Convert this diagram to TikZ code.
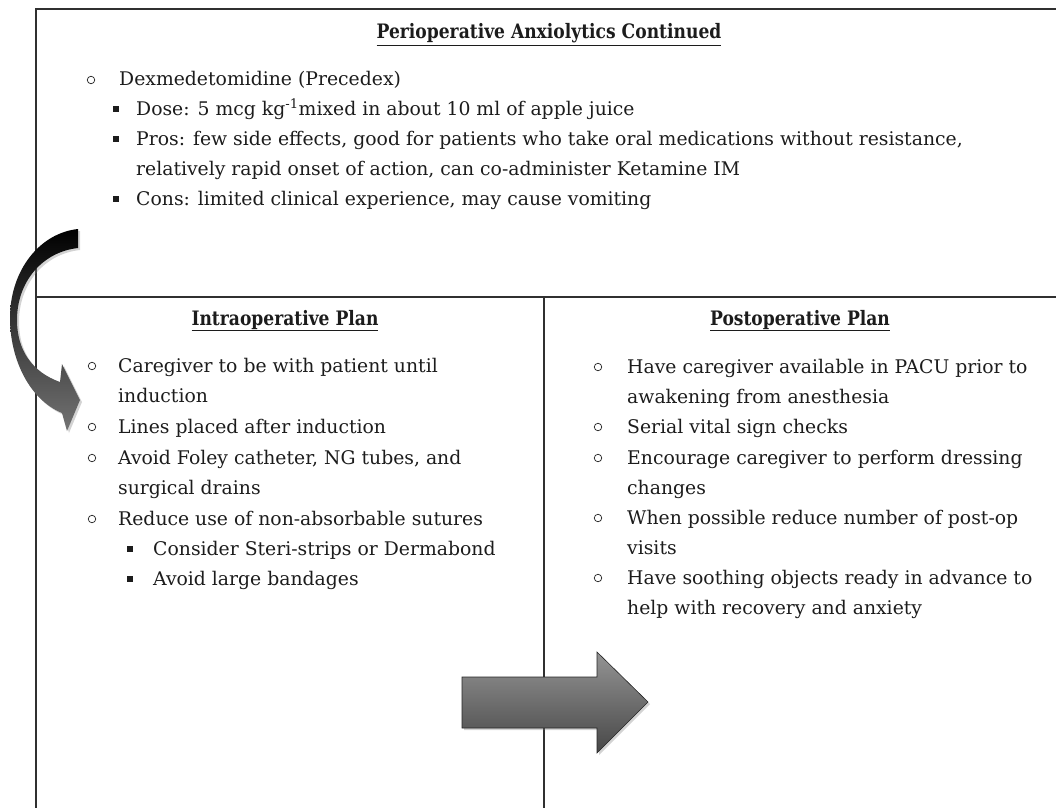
\documentclass[tikz,border=0pt]{standalone}
\usepackage{fontspec}
\setmainfont{DejaVu Serif}
\newfontfamily\headfont[FakeStretch=0.86]{DejaVu Serif}
\usepackage{tikz}
\usetikzlibrary{positioning,shadows,calc}
\definecolor{rule}{HTML}{303030}
\definecolor{ink}{HTML}{1C1C1C}

\begin{document}
\begin{tikzpicture}[x=1pt, y=-1pt,
  body/.style={anchor=base west, inner sep=0pt, align=left, text=ink, font=\fontsize{18.8}{30.4}\selectfont},
  heading/.style={anchor=base, inner sep=0pt, text=ink, font=\headfont\bfseries\fontsize{19.9}{24}\selectfont},
  circ/.style={circle, draw=ink, line width=0.7pt, minimum size=7.5pt, inner sep=0pt},
  sq/.style={rectangle, fill=ink, minimum size=6.5pt, inner sep=0pt},
  frame/.style={draw=rule, line width=1.7pt},
  blockarrow/.style={draw=black!85, line width=0.6pt, drop shadow={shadow xshift=2pt, shadow yshift=-2pt, opacity=0.35}}
]
\useasboundingbox (0,0) rectangle (1056,808);

% table lines
\draw[frame] (1056,9) -- (36,9) -- (36,808);
\draw[frame] (36,297) -- (1056,297);
\draw[frame] (544,297) -- (544,808);

% top cell (two-line nodes sit on their last baseline)
\node[heading] (ttl) at (549,39) {\underline{Perioperative Anxiolytics Continued}};
\node[circ] (c0) at (91,80) {};
\node[body] (dex) at (119,85) {Dexmedetomidine (Precedex)};
\node[sq] (s1) at (116,109) {};
\node[body] (dose) at (136,115) {Dose: 5 mcg kg\textsuperscript{-1}mixed in about 10 ml of apple juice};
\node[sq] (s2) at (116,139) {};
\node[body] (pros) at (136,175.4) {Pros: few side effects, good for patients who take oral medications without resistance,\\relatively rapid onset of action, can co-administer Ketamine IM};
\node[sq] (s3) at (116,199) {};
\node[body] (cons) at (136,205) {Cons: limited clinical experience, may cause vomiting};

% left cell
\node[heading] (intra) at (285,325) {\underline{Intraoperative Plan}};
\node[circ] (ci1) at (92,366) {};
\node[body] (i1) at (118,402.4) {Caregiver to be with patient until\\induction};
\node[circ] (ci2) at (92,427) {};
\node[body] (i2) at (118,433) {Lines placed after induction};
\node[circ] (ci3) at (92,458) {};
\node[body] (i3) at (118,494.4) {Avoid Foley catheter, NG tubes, and\\surgical drains};
\node[circ] (ci4) at (92,519) {};
\node[body] (i4) at (118,525) {Reduce use of non-absorbable sutures};
\node[sq] (si5) at (130,549) {};
\node[body] (i5) at (153,555) {Consider Steri-strips or Dermabond};
\node[sq] (si6) at (130,579) {};
\node[body] (i6) at (153,585) {Avoid large bandages};

% right cell
\node[heading] (post) at (800,325) {\underline{Postoperative Plan}};
\node[circ] (cp1) at (598,367) {};
\node[body] (p1) at (627,403.4) {Have caregiver available in PACU prior to\\awakening from anesthesia};
\node[circ] (cp2) at (598,427) {};
\node[body] (p2) at (627,433) {Serial vital sign checks};
\node[circ] (cp3) at (598,458) {};
\node[body] (p3) at (627,494.4) {Encourage caregiver to perform dressing\\changes};
\node[circ] (cp4) at (598,518) {};
\node[body] (p4) at (627,554.4) {When possible reduce number of post-op\\visits};
\node[circ] (cp5) at (598,578) {};
\node[body] (p5) at (627,614.4) {Have soothing objects ready in advance to\\help with recovery and anxiety};

% curved arrow
\path[blockarrow, top color=black, bottom color=black!55, draw=none]
  (78,229) .. controls (40,233) and (10,270) .. (10,318)
  .. controls (10,360) and (30,400) .. (62,413)
  -- (67,431) -- (80,400) -- (62,364) -- (60,382)
  .. controls (32,372) and (17,350) .. (17,320)
  .. controls (17,282) and (42,252) .. (78,248) -- cycle;

% straight arrow
\path[blockarrow, top color=black!42, bottom color=black!72]
  (462,677) -- (597,677) -- (597,652) -- (648,702) -- (597,753)
  -- (597,728) -- (462,728) -- cycle;
\end{tikzpicture}
\end{document}
